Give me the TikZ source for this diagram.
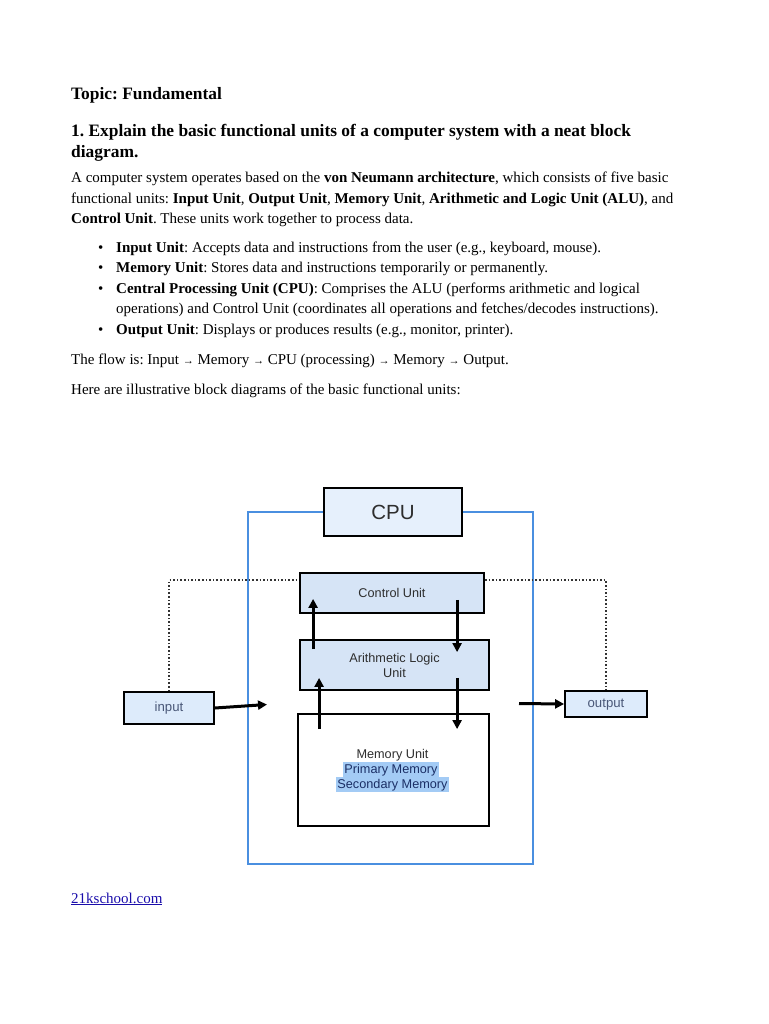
\documentclass[tikz,border=0pt]{standalone}
\usepackage{fontspec}
\setmainfont{Liberation Serif}
\newfontfamily\diag{Liberation Sans}
\usetikzlibrary{arrows.meta,calc}
\definecolor{linkblue}{RGB}{26,13,171}
\definecolor{cpufill}{HTML}{E6F0FC}
\definecolor{unitfill}{HTML}{D6E4F6}
\definecolor{iofill}{HTML}{DDEBFB}
\definecolor{frameblue}{HTML}{4A8FE0}
\definecolor{hilite}{HTML}{A3CBF5}
\definecolor{hitext}{HTML}{1B2F66}
\definecolor{labtext}{HTML}{2E2E2E}
\definecolor{iotext}{HTML}{4A5878}
\begin{document}
\frenchspacing
\begin{tikzpicture}[x=1pt,y=-1pt,
  txt/.style={anchor=base west,inner sep=0pt,font=\fontsize{15}{18}\selectfont},
  head/.style={anchor=base west,inner sep=0pt,font=\fontsize{17.4}{20}\selectfont\bfseries},
  unitbox/.style={draw=black,line width=1.8pt,inner sep=0pt,font=\diag\fontsize{12.7}{15}\selectfont,text=labtext,align=center},
  iobox/.style={unitbox,fill=iofill,text=iotext,font=\diag\fontsize{13.2}{15}\selectfont,text height=9pt,text depth=2pt},
  arr/.style={line width=3pt,-{Triangle[length=9pt,width=9pt]}},
  dotline/.style={line width=1.6pt,dotted,black!80}]
\useasboundingbox[fill=white] (0,0) rectangle (768,1024);

% ---- text ----
\node[head] (t1) at (71,100) {Topic: Fundamental};
\node[head] (t2) at (71,137) {1. Explain the basic functional units of a computer system with a neat block};
\node[head] (t3) at (71,158) {diagram.};
\node[txt] (p1) at (71,183) {A computer system operates based on the \textbf{von Neumann architecture}, which consists of five basic};
\node[txt] (p2) at (71,203.5) {functional units: \textbf{Input Unit}, \textbf{Output Unit}, \textbf{Memory Unit}, \textbf{Arithmetic and Logic Unit (ALU)}, and};
\node[txt] (p3) at (71,224) {\textbf{Control Unit}. These units work together to process data.};

\foreach \yy/\nm in {252/b1,272.5/b2,293/b3,334/b5}{\node[txt] (\nm) at (98,\yy) {•};}
\node[txt] (l1) at (116,252) {\textbf{Input Unit}: Accepts data and instructions from the user (e.g., keyboard, mouse).};
\node[txt] (l2) at (116,272.5) {\textbf{Memory Unit}: Stores data and instructions temporarily or permanently.};
\node[txt] (l3) at (116,293) {\textbf{Central Processing Unit (CPU)}: Comprises the ALU (performs arithmetic and logical};
\node[txt] (l4) at (116,313.5) {operations) and Control Unit (coordinates all operations and fetches/decodes instructions).};
\node[txt] (l5) at (116,334) {\textbf{Output Unit}: Displays or produces results (e.g., monitor, printer).};

\node[txt] (flow) at (71,364) {The flow is: Input {\fontsize{11}{12}\selectfont→} Memory {\fontsize{11}{12}\selectfont→} CPU (processing) {\fontsize{11}{12}\selectfont→} Memory {\fontsize{11}{12}\selectfont→} Output.};
\node[txt] (here) at (71,394) {Here are illustrative block diagrams of the basic functional units:};

\node[txt,text=linkblue] (link) at (71,903) {\underline{21kschool.com}};

% ---- diagram ----
\draw[frameblue,line width=1.8pt] (248,512) rectangle (533,864);
\node[unitbox,fill=cpufill,minimum width=138pt,minimum height=48pt,font=\diag\fontsize{20.5}{24}\selectfont] (cpu) at (393,512) {CPU};
\node[unitbox,fill=unitfill,minimum width=184pt,minimum height=40pt] (cu) at (392,593) {Control Unit};
\node[unitbox,fill=unitfill,minimum width=189pt,minimum height=50pt] (alu) at (394.5,665) {Arithmetic Logic\\Unit};
\node[unitbox,fill=white,minimum width=191pt,minimum height=112pt] (mem) at (393.5,770) {};
\node[inner sep=0pt,font=\diag\fontsize{12.7}{15}\selectfont,text=labtext] (m1) at (392.5,755) {Memory Unit};
\node[fill=hilite,inner xsep=1pt,inner ysep=0pt,text height=11pt,text depth=4pt,font=\diag\fontsize{12.7}{15}\selectfont,text=hitext] (m2) at (391,769.5) {Primary Memory};
\node[fill=hilite,inner xsep=1pt,inner ysep=0pt,text height=11pt,text depth=4pt,font=\diag\fontsize{12.7}{15}\selectfont,text=hitext] (m3) at (392.5,784.5) {Secondary Memory};
\node[iobox,minimum width=90pt,minimum height=32pt] (in) at (169,708) {input};
\node[iobox,minimum width=82pt,minimum height=26pt] (out) at (606,704) {output};

% dotted control lines
\draw[dotline] (in.north) |- ($(cu.north west)+(0,8)$);
\draw[dotline] ($(cu.north east)+(0,8)$) -| (out.north);

% internal arrows
\draw[arr] ($(alu.north west)+(14,10)$) -- ($(cu.south west)+(14,-15)$);
\draw[arr] ($(cu.south west)+(158,-14)$) -- ($(alu.north west)+(158,13)$);
\draw[arr] ($(mem.north west)+(22,16)$) -- ($(alu.south west)+(20,-13)$);
\draw[arr] ($(alu.south west)+(158,-13)$) -- ($(mem.north west)+(160,16)$);

% io arrows
\coordinate (inend) at (267,704.5);
\coordinate (outstart) at (519,703.5);
\draw[arr] (in.east) -- (inend);
\draw[arr] (outstart) -- (out.west);
\end{tikzpicture}
\end{document}
